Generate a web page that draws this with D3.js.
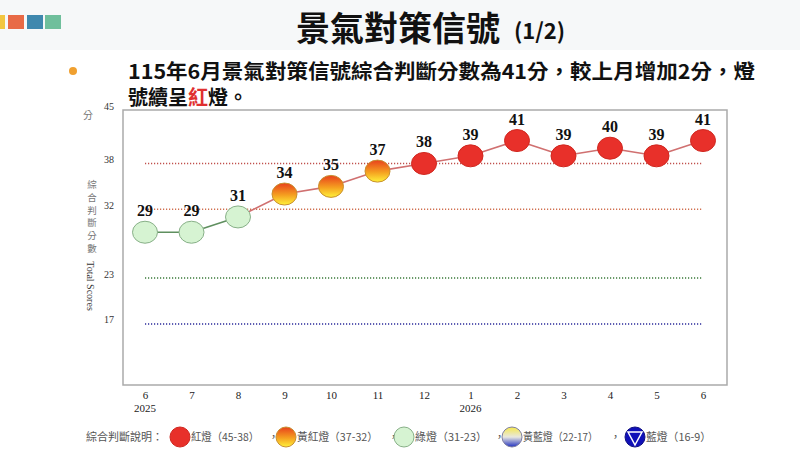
<!DOCTYPE html>
<html><head><meta charset="utf-8">
<script src="https://cdn.jsdelivr.net/npm/d3@7"></script>
<style>body{margin:0;background:#fff}svg{display:block}</style>
</head><body>
<script>
const months = ["6","7","8","9","10","11","12","1","2","3","4","5","6"];
const years = ["2025","","","","","","","2026","","","","",""];
const scores = [29,29,31,34,35,37,38,39,41,39,40,39,41];
const yTicks = [45,38,32,23,17];
const refLines = [
  {v:38, c:"#c0504d"},
  {v:32, c:"#d07050"},
  {v:23, c:"#3a7a3a"},
  {v:17, c:"#2a2a9a"}
];
const legendItems = [
  {type:"red", label:"紅燈（45-38）"},
  {type:"yr", label:"黃紅燈（37-32）"},
  {type:"green", label:"綠燈（31-23）"},
  {type:"yb", label:"黃藍燈（22-17）"},
  {type:"blue", label:"藍燈（16-9）"}
];

const W=800,H=450;
const svg=d3.select("body").append("svg").attr("width",W).attr("height",H);
const defs=svg.append("defs");
const g1=defs.append("linearGradient").attr("id","gYR").attr("x1",0).attr("y1",0).attr("x2",0).attr("y2",1);
g1.append("stop").attr("offset","0%").attr("stop-color","#e8401c");
g1.append("stop").attr("offset","55%").attr("stop-color","#f5a020");
g1.append("stop").attr("offset","100%").attr("stop-color","#fff23a");
const g2=defs.append("linearGradient").attr("id","gYB").attr("x1",0).attr("y1",0).attr("x2",0).attr("y2",1);
g2.append("stop").attr("offset","0%").attr("stop-color","#f5e84a");
g2.append("stop").attr("offset","50%").attr("stop-color","#e8e8e0");
g2.append("stop").attr("offset","100%").attr("stop-color","#2030c0");

function cls(v){ return v>=38?"red":v>=32?"yr":v>=23?"green":v>=17?"yb":"blue"; }
const fillOf={red:"#e8302a",yr:"url(#gYR)",green:"#d6f3d2",yb:"url(#gYB)",blue:"#1010b8"};
const strokeOf={red:"#d02820",yr:"#c89030",green:"#88b088",yb:"#8080a0",blue:"#101080"};

// header
svg.append("rect").attr("x",0).attr("y",0).attr("width",W).attr("height",50).attr("fill","#f6f8f9");
[["#f2c640",-11],["#e86a46",8],["#3f88ae",27],["#6fbf9c",45]].forEach(([c,x])=>{
  svg.append("rect").attr("x",x).attr("y",15).attr("width",16).attr("height",14).attr("fill",c);
});
svg.append("text").attr("x",296).attr("y",41).attr("font-family","'Noto Sans CJK TC'").attr("font-weight","bold").attr("font-size",34).attr("fill","#111").text("景氣對策信號");
svg.append("text").attr("x",514).attr("y",39).attr("font-family","'Noto Sans CJK TC'").attr("font-weight","bold").attr("font-size",22).attr("fill","#111").text("(1/2)");

svg.append("circle").attr("cx",73).attr("cy",71).attr("r",4).attr("fill","#f0a030");
svg.append("text").attr("x",128).attr("y",79).attr("font-family","'Noto Sans CJK TC'").attr("font-weight","bold").attr("font-size",20).attr("fill","#111")
  .attr("textLength",627).attr("lengthAdjust","spacingAndGlyphs")
  .text("115年6月景氣對策信號綜合判斷分數為41分，較上月增加2分，燈");
const t2=svg.append("text").attr("x",128).attr("y",105).attr("font-family","'Noto Sans CJK TC'").attr("font-weight","bold").attr("font-size",20).attr("fill","#111");
t2.append("tspan").text("號續呈");
t2.append("tspan").attr("fill","#e03030").text("紅");
t2.append("tspan").text("燈。");

// chart
const x=d3.scalePoint().domain(d3.range(months.length)).range([145,703]);
const y=d3.scaleLinear().domain([9,45]).range([385,110]);
svg.append("rect").attr("x",123).attr("y",110).attr("width",604).attr("height",275).attr("fill","#fff").attr("stroke","#aaa").attr("stroke-width",1.5);

refLines.forEach(r=>{
  svg.append("line").attr("x1",145).attr("x2",703).attr("y1",y(r.v)).attr("y2",y(r.v))
    .attr("stroke",r.c).attr("stroke-width",1.5).attr("stroke-dasharray","1.2,1.8");
});

// y axis ticks
const yAxis=d3.axisLeft(y).tickValues(yTicks).tickSize(0).tickPadding(0);
const ya=svg.append("g").attr("transform","translate(114,0)").call(yAxis);
ya.select(".domain").remove();
ya.selectAll("text").attr("font-family","'Liberation Serif'").attr("font-size",10).attr("fill","#333").attr("dy","-0.1em");

svg.append("text").attr("x",88).attr("y",119).attr("text-anchor","middle").attr("font-family","'Noto Sans CJK TC'").attr("font-size",10).attr("fill","#777").text("分");
"綜合判斷分數".split("").forEach((c,i)=>{
  svg.append("text").attr("x",92).attr("y",188+i*12.8).attr("text-anchor","middle").attr("font-family","'Noto Sans CJK TC'").attr("font-size",9.5).attr("fill","#777").text(c);
});
svg.append("text").attr("transform","translate(87,286) rotate(90)").attr("text-anchor","middle").attr("font-family","'Liberation Serif'").attr("font-size",10).attr("fill","#333").text("Total Scores");

// x axis
const xAxis=d3.axisBottom(x).tickSize(0).tickPadding(0).tickFormat(i=>months[i]);
const xa=svg.append("g").attr("transform","translate(0,399)").call(xAxis);
xa.select(".domain").remove();
xa.selectAll("text").attr("font-family","'Liberation Serif'").attr("font-size",11).attr("fill","#222").attr("dy","0");
svg.selectAll(".yr").data(years.map((t,i)=>({t,i})).filter(d=>d.t)).enter().append("text")
  .attr("x",d=>x(d.i)).attr("y",412).attr("text-anchor","middle").attr("font-family","'Liberation Serif'").attr("font-size",11).attr("fill","#222").text(d=>d.t);

// line segments
for(let i=1;i<scores.length;i++){
  const green=cls(scores[i])==="green"&&cls(scores[i-1])==="green";
  svg.append("line").attr("x1",x(i-1)).attr("y1",y(scores[i-1])).attr("x2",x(i)).attr("y2",y(scores[i]))
    .attr("stroke",green?"#5f8f5f":"#d07070").attr("stroke-width",1.6);
}
// points
svg.selectAll(".pt").data(scores).enter().append("ellipse")
  .attr("cx",(d,i)=>x(i)).attr("cy",d=>y(d)).attr("rx",12.5).attr("ry",11)
  .attr("fill",d=>fillOf[cls(d)]).attr("stroke",d=>strokeOf[cls(d)]).attr("stroke-width",1);
svg.selectAll(".lb").data(scores).enter().append("text")
  .attr("x",(d,i)=>x(i)).attr("y",d=>y(d)-16).attr("text-anchor","middle")
  .attr("font-family","'Liberation Serif'").attr("font-weight","bold").attr("font-size",16).attr("fill","#111").text(d=>d);

// legend
const ly=437;
svg.append("text").attr("x",86).attr("y",ly+4).attr("font-family","'Noto Sans CJK TC'").attr("font-size",11).attr("fill","#555").text("綜合判斷說明：");
const lxs=[180,286,404,512,635];
const lw=[68,81,72,75,65];
const commas=[268,388,494,610];
legendItems.forEach((it,i)=>{
  const xx=lxs[i];
  svg.append("circle").attr("cx",xx).attr("cy",ly).attr("r",10).attr("fill",fillOf[it.type]).attr("stroke",strokeOf[it.type]);
  if(it.type==="blue"){
    svg.append("path").attr("d",`M${xx-7},${ly-5}L${xx+7},${ly-5}L${xx},${ly+8}Z`).attr("fill","none").attr("stroke","#fff").attr("stroke-width",1.5);
  }
  svg.append("text").attr("x",xx+11).attr("y",ly+4).attr("font-family","'Noto Sans CJK TC'").attr("font-size",11)
    .attr("textLength",lw[i]).attr("lengthAdjust","spacingAndGlyphs").attr("fill","#555").text(it.label);
  if(i<4) svg.append("text").attr("x",commas[i]).attr("y",ly+4).attr("font-family","'Noto Sans CJK TC'").attr("font-size",11).attr("fill","#555").text("，");
});
</script>
</body></html>
